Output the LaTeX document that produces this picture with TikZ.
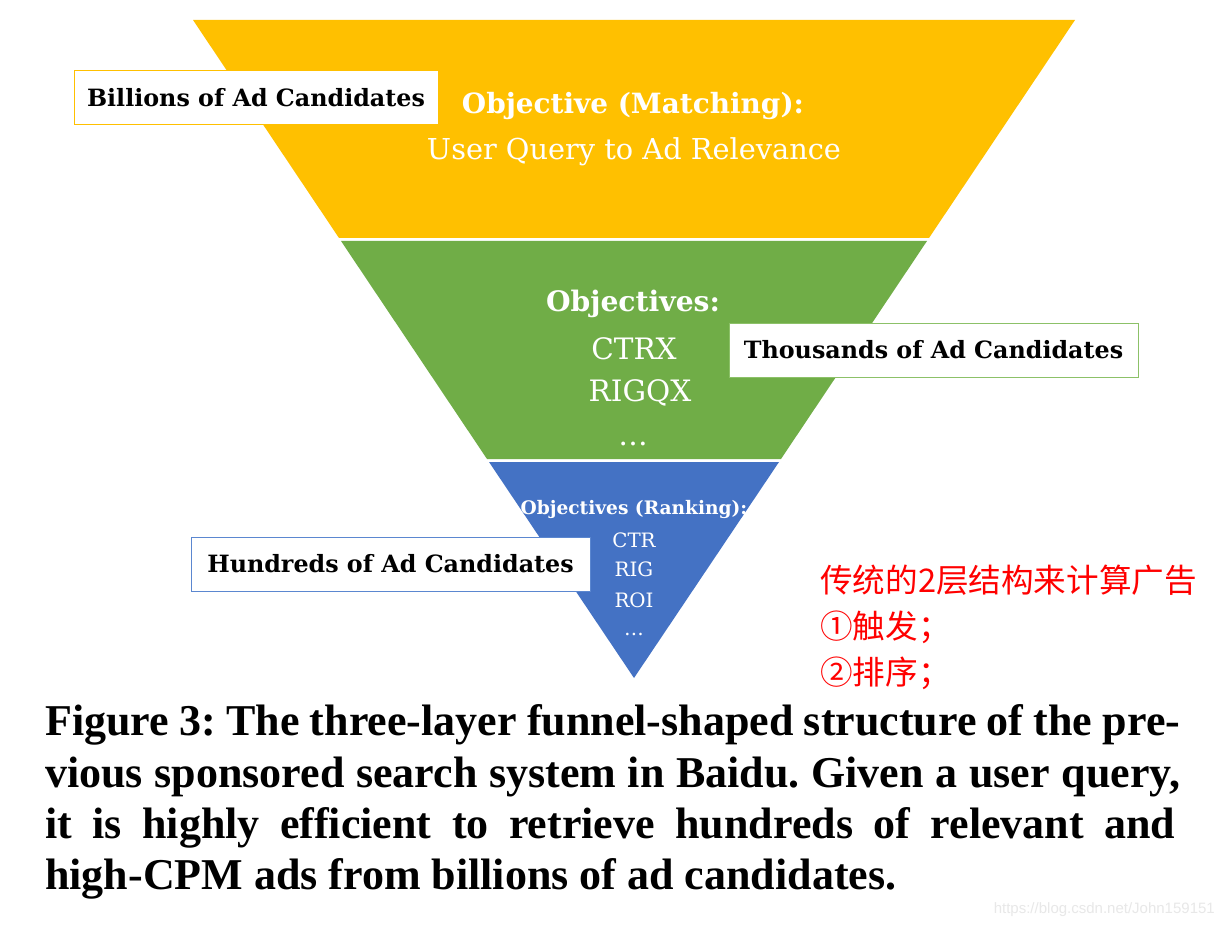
\documentclass[tikz,border=0pt]{standalone}
\usepackage{fontspec}
\setmainfont{Liberation Serif}
\newfontfamily\labelfont{DejaVu Serif}
\newfontfamily\cjk{Noto Sans CJK SC}
\newfontfamily\wmfont{Liberation Sans}
\definecolor{fyellow}{HTML}{FFC000}
\definecolor{fgreen}{HTML}{70AD47}
\definecolor{fblue}{HTML}{4472C4}
\definecolor{lgreen}{HTML}{8CC168}
\definecolor{lblue}{HTML}{5B87D0}
\definecolor{wm}{HTML}{E8E8E8}
\tikzset{
  tag/.style={draw=#1, line width=1pt, fill=white, minimum height=54pt, inner sep=0pt,
    font=\labelfont\bfseries\fontsize{23.8}{28}\selectfont, text=black},
  intext/.style={text=white, inner sep=0pt},
  capline/.style={anchor=base west, inner sep=0pt, font=\frenchspacing\bfseries\fontsize{44}{50}\selectfont},
}
\begin{document}
\begin{tikzpicture}[x=1pt,y=-1pt]
\useasboundingbox (0,0) rectangle (1224,928);
\fill[white] (0,0) rectangle (1224,928);
% funnel
\fill[fyellow] (193,20) -- (1075,20) -- (929,238) -- (339,238) -- cycle;
\fill[fgreen] (341,241) -- (927,241) -- (781,459) -- (487,459) -- cycle;
\fill[fblue] (489,462) -- (779,462) -- (634,678) -- cycle;
% texts inside
\node[intext, font=\labelfont\bfseries\fontsize{27.9}{32}\selectfont] (t1) at (633,106) {Objective (Matching):};
\node[intext, font=\labelfont\fontsize{28.8}{32}\selectfont] (t2) at (634,152) {User Query to Ad Relevance};
\node[intext, font=\labelfont\bfseries\fontsize{28.2}{32}\selectfont] (g1) at (633,304) {Objectives:};
\node[intext, font=\labelfont\fontsize{29.5}{32}\selectfont] (g2) at (634,349) {CTRX};
\node[intext, font=\labelfont\fontsize{29.5}{32}\selectfont] (g3) at (640,393) {RIGQX};
\node[intext, font=\labelfont\fontsize{29.5}{32}\selectfont] (g4) at (633,444) {\dots};
\node[intext, font=\labelfont\bfseries\fontsize{18.6}{22}\selectfont] (b1) at (634,509) {Objectives (Ranking):};
\node[intext, font=\labelfont\fontsize{19.8}{22}\selectfont] (b2) at (634,540) {CTR};
\node[intext, font=\labelfont\fontsize{19.8}{22}\selectfont] (b3) at (634,569) {RIG};
\node[intext, font=\labelfont\fontsize{19.8}{22}\selectfont] (b4) at (634,600) {ROI};
\node[intext, font=\labelfont\fontsize{19.8}{22}\selectfont] (b5) at (634,634) {\dots};
% tags
\node[tag=fyellow, minimum width=364pt] (bil) at (256,98) {Billions of Ad Candidates};
\node[tag=lgreen, minimum width=409pt] (tho) at (933.5,350) {Thousands of Ad Candidates};
\node[tag=lblue, minimum width=399pt] (hun) at (390.5,564) {Hundreds of Ad Candidates};
% chinese note
\node[anchor=west, inner sep=0pt, text=red, font=\cjk\fontsize{32.6}{36}\selectfont] (c1) at (820,580) {传统的2层结构来计算广告};
\node[anchor=west, inner sep=0pt, text=red, font=\cjk\fontsize{32.6}{36}\selectfont] (c2) at (820,627) {①触发；};
\node[anchor=west, inner sep=0pt, text=red, font=\cjk\fontsize{32.6}{36}\selectfont] (c3) at (820,673) {②排序；};
% caption
\node[capline] (l1) at (45,735) {\makebox[1135pt][s]{Figure 3: The three-layer funnel-shaped structure of the pre-}};
\node[capline] (l2) at (45,787) {\makebox[1135pt][s]{vious sponsored search system in Baidu. Given a user query,}};
\node[capline] (l3) at (45,838) {\makebox[1130pt][s]{it is highly efficient to retrieve hundreds of relevant and}};
\node[capline] (l4) at (45,889) {high-CPM ads from billions of ad candidates.};
% watermark
\node[anchor=east, inner sep=0pt, text=wm, font=\wmfont\fontsize{15}{18}\selectfont] (wmk) at (1215,910) {https://blog.csdn.net/John159151};
\end{tikzpicture}
\end{document}
